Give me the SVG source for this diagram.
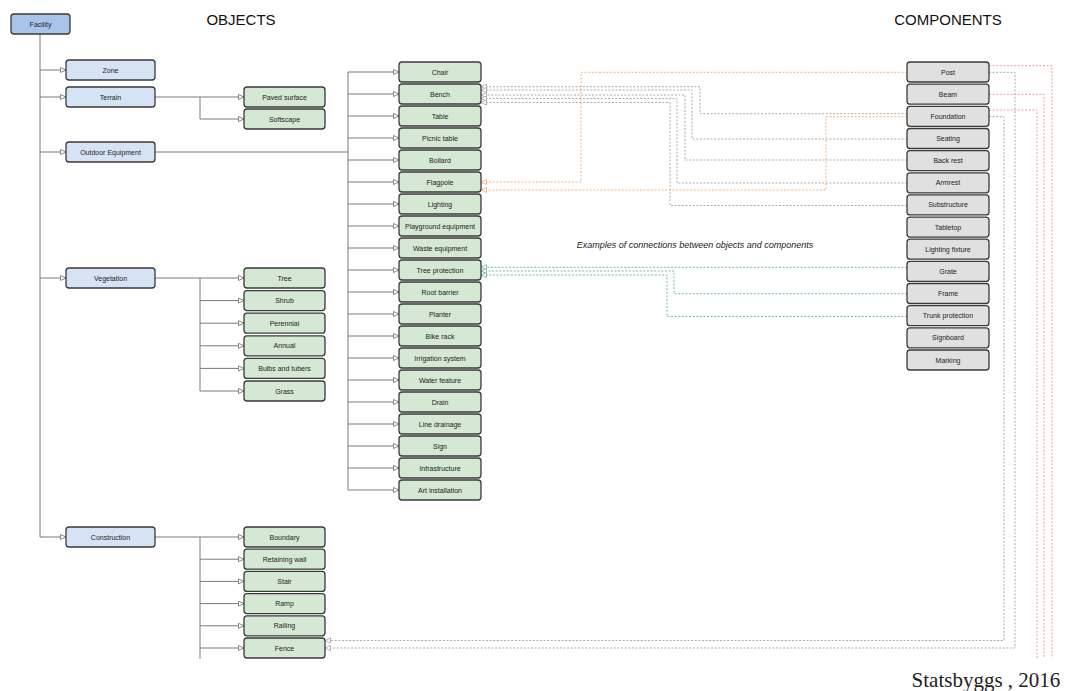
<svg xmlns="http://www.w3.org/2000/svg" width="1070" height="691" viewBox="0 0 1070 691">
<style>
  text { font-family: "Liberation Sans", Arial, sans-serif; }
  .lbl { font-size: 7px; fill: #222; text-anchor: middle; dominant-baseline: central; }
  .box { stroke: #3a3a3a; stroke-width: 1.3; }
  .root { fill: #a9c4eb; }
  .l1 { fill: #d6e3f5; }
  .obj { fill: #d5e8d4; }
  .cmp { fill: #e0e0e0; }
  .tree { fill: none; stroke: #7a7a7a; stroke-width: 1; marker-end: url(#tri); }
  .trunk { fill: none; stroke: #7a7a7a; stroke-width: 1; }
  .dash { fill: none; stroke-width: 1; stroke-dasharray: 2 1.6; }
  .or { stroke: #f6b27c; marker-end: url(#triOr); }
  .gr { stroke: #ababab; marker-end: url(#triGr); }
  .te { stroke: #74b9a9; marker-end: url(#triTe); }
  .rd { stroke: #f19c9c; }
  .title { font-size: 15px; fill: #111; text-anchor: middle; }
</style>
<defs>
  <marker id="tri" markerUnits="userSpaceOnUse" markerWidth="8" markerHeight="8" refX="6" refY="3" orient="auto">
    <path d="M0.5,0.5 L6,3 L0.5,5.5 Z" fill="#fff" stroke="#7a7a7a" stroke-width="0.9"/>
  </marker>
  <marker id="triOr" markerUnits="userSpaceOnUse" markerWidth="8" markerHeight="8" refX="6" refY="3" orient="auto">
    <path d="M0.5,0.5 L6,3 L0.5,5.5 Z" fill="#fff" stroke="#f6b27c" stroke-width="0.9"/>
  </marker>
  <marker id="triGr" markerUnits="userSpaceOnUse" markerWidth="8" markerHeight="8" refX="6" refY="3" orient="auto">
    <path d="M0.5,0.5 L6,3 L0.5,5.5 Z" fill="#fff" stroke="#ababab" stroke-width="0.9"/>
  </marker>
  <marker id="triTe" markerUnits="userSpaceOnUse" markerWidth="8" markerHeight="8" refX="6" refY="3" orient="auto">
    <path d="M0.5,0.5 L6,3 L0.5,5.5 Z" fill="#fff" stroke="#74b9a9" stroke-width="0.9"/>
  </marker>
</defs>
<rect width="1070" height="691" fill="#fff"/>

<text class="title" x="241" y="25">OBJECTS</text>
<text class="title" x="948" y="25">COMPONENTS</text>
<text x="695" y="248" font-size="9" font-style="italic" fill="#222" text-anchor="middle">Examples of connections between objects and components</text>
<text x="986" y="687" font-size="21" fill="#222" text-anchor="middle" style="font-family: 'Liberation Serif', 'Times New Roman', serif">Statsbyggs , 2016</text>

<g id="connectors">
  <path class="trunk" d="M40,34 V537"/>
  <path class="tree" d="M40,70 H66"/>
  <path class="tree" d="M40,97 H66"/>
  <path class="tree" d="M40,152 H66"/>
  <path class="tree" d="M40,278 H66"/>
  <path class="tree" d="M40,537 H66"/>
  <path class="tree" d="M155,97 H244"/>
  <path class="tree" d="M200,97 V119 H244"/>
  <path class="trunk" d="M155,152 H348 M348,72 V490"/>
  <path class="tree" d="M348,72 H399"/>
  <path class="tree" d="M348,94 H399"/>
  <path class="tree" d="M348,116 H399"/>
  <path class="tree" d="M348,138 H399"/>
  <path class="tree" d="M348,160 H399"/>
  <path class="tree" d="M348,182 H399"/>
  <path class="tree" d="M348,204 H399"/>
  <path class="tree" d="M348,226 H399"/>
  <path class="tree" d="M348,248 H399"/>
  <path class="tree" d="M348,270 H399"/>
  <path class="tree" d="M348,292 H399"/>
  <path class="tree" d="M348,314 H399"/>
  <path class="tree" d="M348,336 H399"/>
  <path class="tree" d="M348,358 H399"/>
  <path class="tree" d="M348,380 H399"/>
  <path class="tree" d="M348,402 H399"/>
  <path class="tree" d="M348,424 H399"/>
  <path class="tree" d="M348,446 H399"/>
  <path class="tree" d="M348,468 H399"/>
  <path class="tree" d="M348,490 H399"/>
  <path class="trunk" d="M200,278 V391"/>
  <path class="tree" d="M155,278 H244"/>
  <path class="tree" d="M200,300.6 H244"/>
  <path class="tree" d="M200,323.2 H244"/>
  <path class="tree" d="M200,345.8 H244"/>
  <path class="tree" d="M200,368.4 H244"/>
  <path class="tree" d="M200,391 H244"/>
  <path class="trunk" d="M200,537 V659"/>
  <path class="tree" d="M155,537 H244"/>
  <path class="tree" d="M200,559.2 H244"/>
  <path class="tree" d="M200,581.4 H244"/>
  <path class="tree" d="M200,603.6 H244"/>
  <path class="tree" d="M200,625.8 H244"/>
  <path class="tree" d="M200,648 H244"/>

  <path class="dash or" d="M907,72.3 H581 V182 H481"/>
  <path class="dash or" d="M907,116.7 H826 V190 H481"/>
  <path class="dash gr" d="M907,113.7 H700 V86.7 H481"/>
  <path class="dash gr" d="M907,139 H692 V90 H481"/>
  <path class="dash gr" d="M907,160 H685 V95 H481"/>
  <path class="dash gr" d="M907,183 H677 V98.5 H481"/>
  <path class="dash gr" d="M907,205.5 H670 V102.5 H481"/>
  <path class="dash te" d="M907,267.3 H481"/>
  <path class="dash te" d="M907,293.7 H674 V271 H481"/>
  <path class="dash te" d="M907,316.5 H667 V275 H481"/>
  <path class="dash gr" d="M989,116.7 H1004 V640.5 H325"/>
  <path class="dash gr" d="M989,72.3 H1015 V648 H325"/>
  <path class="dash rd" d="M989,65.7 H1052 V658"/>
  <path class="dash rd" d="M989,94.3 H1044 V658"/>
  <path class="dash rd" d="M989,110 H1037 V658"/>
</g>

<g id="facility"><rect class="box root" x="11" y="14" width="59" height="20" rx="3"/><text class="lbl" x="40.5" y="24">Facility</text></g>

<g id="zone"><rect class="box l1" x="66" y="60" width="89" height="20" rx="3"/><text class="lbl" x="110.5" y="70">Zone</text></g>
<g id="terrain"><rect class="box l1" x="66" y="87" width="89" height="20" rx="3"/><text class="lbl" x="110.5" y="97">Terrain</text></g>
<g id="outdoor-equipment"><rect class="box l1" x="66" y="142" width="89" height="20" rx="3"/><text class="lbl" x="110.5" y="152">Outdoor Equipment</text></g>
<g id="vegetation"><rect class="box l1" x="66" y="268" width="89" height="20" rx="3"/><text class="lbl" x="110.5" y="278">Vegetation</text></g>
<g id="construction"><rect class="box l1" x="66" y="527" width="89" height="20" rx="3"/><text class="lbl" x="110.5" y="537">Construction</text></g>

<g id="paved-surface"><rect class="box obj" x="244" y="87" width="81" height="20" rx="3"/><text class="lbl" x="284.5" y="97">Paved surface</text></g>
<g id="softscape"><rect class="box obj" x="244" y="109" width="81" height="20" rx="3"/><text class="lbl" x="284.5" y="119">Softscape</text></g>

<g id="tree"><rect class="box obj" x="244" y="268" width="81" height="20" rx="3"/><text class="lbl" x="284.5" y="278">Tree</text></g>
<g id="shrub"><rect class="box obj" x="244" y="290.6" width="81" height="20" rx="3"/><text class="lbl" x="284.5" y="300.6">Shrub</text></g>
<g id="perennial"><rect class="box obj" x="244" y="313.2" width="81" height="20" rx="3"/><text class="lbl" x="284.5" y="323.2">Perennial</text></g>
<g id="annual"><rect class="box obj" x="244" y="335.8" width="81" height="20" rx="3"/><text class="lbl" x="284.5" y="345.8">Annual</text></g>
<g id="bulbs"><rect class="box obj" x="244" y="358.4" width="81" height="20" rx="3"/><text class="lbl" x="284.5" y="368.4">Bulbs and tubers</text></g>
<g id="grass"><rect class="box obj" x="244" y="381" width="81" height="20" rx="3"/><text class="lbl" x="284.5" y="391">Grass</text></g>

<g id="boundary"><rect class="box obj" x="244" y="527" width="81" height="20" rx="3"/><text class="lbl" x="284.5" y="537">Boundary</text></g>
<g id="retaining-wall"><rect class="box obj" x="244" y="549.2" width="81" height="20" rx="3"/><text class="lbl" x="284.5" y="559.2">Retaining wall</text></g>
<g id="stair"><rect class="box obj" x="244" y="571.4" width="81" height="20" rx="3"/><text class="lbl" x="284.5" y="581.4">Stair</text></g>
<g id="ramp"><rect class="box obj" x="244" y="593.6" width="81" height="20" rx="3"/><text class="lbl" x="284.5" y="603.6">Ramp</text></g>
<g id="railing"><rect class="box obj" x="244" y="615.8" width="81" height="20" rx="3"/><text class="lbl" x="284.5" y="625.8">Railing</text></g>
<g id="fence"><rect class="box obj" x="244" y="638" width="81" height="20" rx="3"/><text class="lbl" x="284.5" y="648">Fence</text></g>

<g id="chair"><rect class="box obj" x="399" y="62" width="82" height="20" rx="3"/><text class="lbl" x="440" y="72">Chair</text></g>
<g id="bench"><rect class="box obj" x="399" y="84" width="82" height="20" rx="3"/><text class="lbl" x="440" y="94">Bench</text></g>
<g id="table"><rect class="box obj" x="399" y="106" width="82" height="20" rx="3"/><text class="lbl" x="440" y="116">Table</text></g>
<g id="picnic-table"><rect class="box obj" x="399" y="128" width="82" height="20" rx="3"/><text class="lbl" x="440" y="138">Picnic table</text></g>
<g id="bollard"><rect class="box obj" x="399" y="150" width="82" height="20" rx="3"/><text class="lbl" x="440" y="160">Bollard</text></g>
<g id="flagpole"><rect class="box obj" x="399" y="172" width="82" height="20" rx="3"/><text class="lbl" x="440" y="182">Flagpole</text></g>
<g id="lighting"><rect class="box obj" x="399" y="194" width="82" height="20" rx="3"/><text class="lbl" x="440" y="204">Lighting</text></g>
<g id="playground"><rect class="box obj" x="399" y="216" width="82" height="20" rx="3"/><text class="lbl" x="440" y="226">Playground equipment</text></g>
<g id="waste"><rect class="box obj" x="399" y="238" width="82" height="20" rx="3"/><text class="lbl" x="440" y="248">Waste equipment</text></g>
<g id="tree-protection"><rect class="box obj" x="399" y="260" width="82" height="20" rx="3"/><text class="lbl" x="440" y="270">Tree protection</text></g>
<g id="root-barrier"><rect class="box obj" x="399" y="282" width="82" height="20" rx="3"/><text class="lbl" x="440" y="292">Root barrier</text></g>
<g id="planter"><rect class="box obj" x="399" y="304" width="82" height="20" rx="3"/><text class="lbl" x="440" y="314">Planter</text></g>
<g id="bike-rack"><rect class="box obj" x="399" y="326" width="82" height="20" rx="3"/><text class="lbl" x="440" y="336">Bike rack</text></g>
<g id="irrigation"><rect class="box obj" x="399" y="348" width="82" height="20" rx="3"/><text class="lbl" x="440" y="358">Irrigation system</text></g>
<g id="water-feature"><rect class="box obj" x="399" y="370" width="82" height="20" rx="3"/><text class="lbl" x="440" y="380">Water feature</text></g>
<g id="drain"><rect class="box obj" x="399" y="392" width="82" height="20" rx="3"/><text class="lbl" x="440" y="402">Drain</text></g>
<g id="line-drainage"><rect class="box obj" x="399" y="414" width="82" height="20" rx="3"/><text class="lbl" x="440" y="424">Line drainage</text></g>
<g id="sign"><rect class="box obj" x="399" y="436" width="82" height="20" rx="3"/><text class="lbl" x="440" y="446">Sign</text></g>
<g id="infrastructure"><rect class="box obj" x="399" y="458" width="82" height="20" rx="3"/><text class="lbl" x="440" y="468">Infrastructure</text></g>
<g id="art-installation"><rect class="box obj" x="399" y="480" width="82" height="20" rx="3"/><text class="lbl" x="440" y="490">Art installation</text></g>

<g id="post"><rect class="box cmp" x="907" y="62" width="82" height="20" rx="3"/><text class="lbl" x="948" y="72">Post</text></g>
<g id="beam"><rect class="box cmp" x="907" y="84.2" width="82" height="20" rx="3"/><text class="lbl" x="948" y="94.2">Beam</text></g>
<g id="foundation"><rect class="box cmp" x="907" y="106.3" width="82" height="20" rx="3"/><text class="lbl" x="948" y="116.3">Foundation</text></g>
<g id="seating"><rect class="box cmp" x="907" y="128.5" width="82" height="20" rx="3"/><text class="lbl" x="948" y="138.5">Seating</text></g>
<g id="back-rest"><rect class="box cmp" x="907" y="150.6" width="82" height="20" rx="3"/><text class="lbl" x="948" y="160.6">Back rest</text></g>
<g id="armrest"><rect class="box cmp" x="907" y="172.8" width="82" height="20" rx="3"/><text class="lbl" x="948" y="182.8">Armrest</text></g>
<g id="substructure"><rect class="box cmp" x="907" y="194.9" width="82" height="20" rx="3"/><text class="lbl" x="948" y="204.9">Substructure</text></g>
<g id="tabletop"><rect class="box cmp" x="907" y="217.1" width="82" height="20" rx="3"/><text class="lbl" x="948" y="227.1">Tabletop</text></g>
<g id="lighting-fixture"><rect class="box cmp" x="907" y="239.2" width="82" height="20" rx="3"/><text class="lbl" x="948" y="249.2">Lighting fixture</text></g>
<g id="grate"><rect class="box cmp" x="907" y="261.4" width="82" height="20" rx="3"/><text class="lbl" x="948" y="271.4">Grate</text></g>
<g id="frame"><rect class="box cmp" x="907" y="283.5" width="82" height="20" rx="3"/><text class="lbl" x="948" y="293.5">Frame</text></g>
<g id="trunk-protection"><rect class="box cmp" x="907" y="305.7" width="82" height="20" rx="3"/><text class="lbl" x="948" y="315.7">Trunk protection</text></g>
<g id="signboard"><rect class="box cmp" x="907" y="327.8" width="82" height="20" rx="3"/><text class="lbl" x="948" y="337.8">Signboard</text></g>
<g id="marking"><rect class="box cmp" x="907" y="350" width="82" height="20" rx="3"/><text class="lbl" x="948" y="360">Marking</text></g>
</svg>
